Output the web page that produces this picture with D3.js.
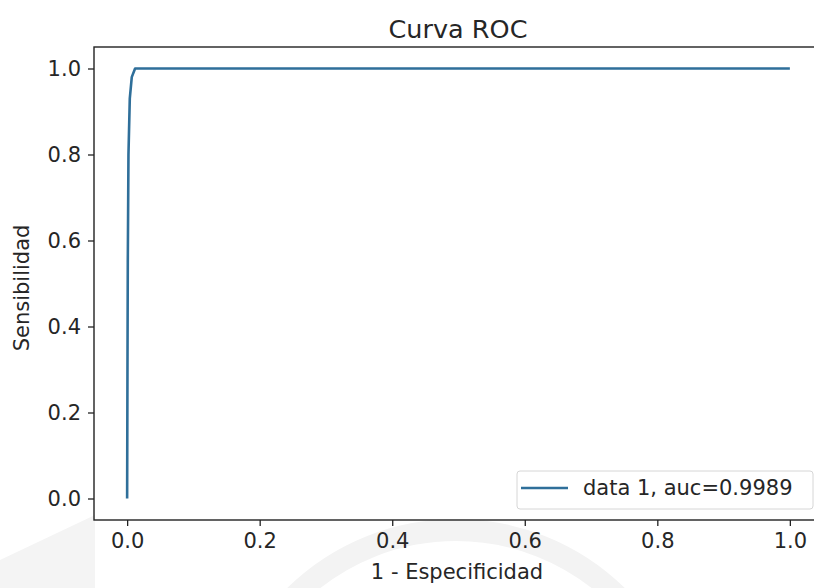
<!DOCTYPE html>
<html>
<head>
<meta charset="utf-8">
<script src="https://cdn.jsdelivr.net/npm/d3@7"></script>
<style>
  html, body { margin: 0; padding: 0; background: #fff; }
  svg { display: block; }
  text { font-family: "DejaVu Sans", sans-serif; fill: #262626; }
</style>
</head>
<body>
<svg id="chart" width="814" height="588"></svg>
<script>
// ROC curve points (false positive rate vs. true positive rate)
const fpr = [0.0, 0.0005, 0.001, 0.002, 0.004, 0.007, 0.012, 1.0];
const tpr = [0.0, 0.30, 0.55, 0.80, 0.93, 0.98, 1.0, 1.0];
const auc = 0.9989;
const tickValues = [0.0, 0.2, 0.4, 0.6, 0.8, 1.0];
const seriesLabel = "data 1, auc=" + auc;

const svg = d3.select("#chart");
const plotLeft = 94, plotRight = 823, plotTop = 47, plotBottom = 520;

const x = d3.scaleLinear().domain([-0.05, 1.05]).range([plotLeft, plotRight]);
const y = d3.scaleLinear().domain([-0.05, 1.05]).range([plotBottom, plotTop]);

// Faint background emblem
const bg = svg.append("g").attr("fill", "none").attr("stroke", "#f3f3f3");
bg.append("path").attr("d", "M0,560 L95,515 L95,588 L0,588 Z").attr("fill", "#f4f4f4").attr("stroke", "none");
bg.append("circle").attr("cx", 456).attr("cy", 760).attr("r", 230).attr("stroke-width", 22);

// Curve
const pts = fpr.map((f, i) => [f, tpr[i]]);
svg.append("path")
  .datum(pts)
  .attr("fill", "none")
  .attr("stroke", "#2f6f9a")
  .attr("stroke-width", 2.6)
  .attr("stroke-linejoin", "round")
  .attr("d", d3.line().x(d => x(d[0])).y(d => y(d[1])));

// Spines
svg.append("rect")
  .attr("x", plotLeft).attr("y", plotTop)
  .attr("width", plotRight - plotLeft).attr("height", plotBottom - plotTop)
  .attr("fill", "none").attr("stroke", "#222").attr("stroke-width", 1.4);

// Axes
const fmt = d3.format(".1f");
const xAxis = svg.append("g")
  .attr("transform", `translate(0,${plotBottom})`)
  .call(d3.axisBottom(x).tickValues(tickValues).tickFormat(fmt).tickSize(6).tickPadding(4));
const yAxis = svg.append("g")
  .attr("transform", `translate(${plotLeft},0)`)
  .call(d3.axisLeft(y).tickValues(tickValues).tickFormat(fmt).tickSize(6).tickPadding(7));
[xAxis, yAxis].forEach(g => {
  g.select(".domain").remove();
  g.selectAll(".tick line").attr("stroke", "#222").attr("stroke-width", 1.3);
  g.selectAll(".tick text").style("font-size", "21px").attr("fill", "#262626")
    .style("font-family", "DejaVu Sans, sans-serif");
});
xAxis.selectAll(".tick text").attr("dy", "0.85em");

// Titles
svg.append("text")
  .attr("x", 458).attr("y", 38)
  .attr("text-anchor", "middle").style("font-size", "25.5px")
  .text("Curva ROC");
svg.append("text")
  .attr("x", 457).attr("y", 579)
  .attr("text-anchor", "middle").style("font-size", "21px")
  .text("1 - Especificidad");
svg.append("text")
  .attr("transform", `translate(29,288) rotate(-90)`)
  .attr("text-anchor", "middle").style("font-size", "21px")
  .text("Sensibilidad");

// Legend
const lg = svg.append("g");
lg.append("rect")
  .attr("x", 517).attr("y", 471).attr("width", 296).attr("height", 38)
  .attr("rx", 3)
  .attr("fill", "rgba(255,255,255,0.85)").attr("stroke", "#d6d6d6").attr("stroke-width", 1);
lg.append("line")
  .attr("x1", 521).attr("x2", 568).attr("y1", 488).attr("y2", 488)
  .attr("stroke", "#2f6f9a").attr("stroke-width", 2.6);
lg.append("text")
  .attr("x", 583).attr("y", 495).style("font-size", "21px")
  .text(seriesLabel);
</script>
</body>
</html>
